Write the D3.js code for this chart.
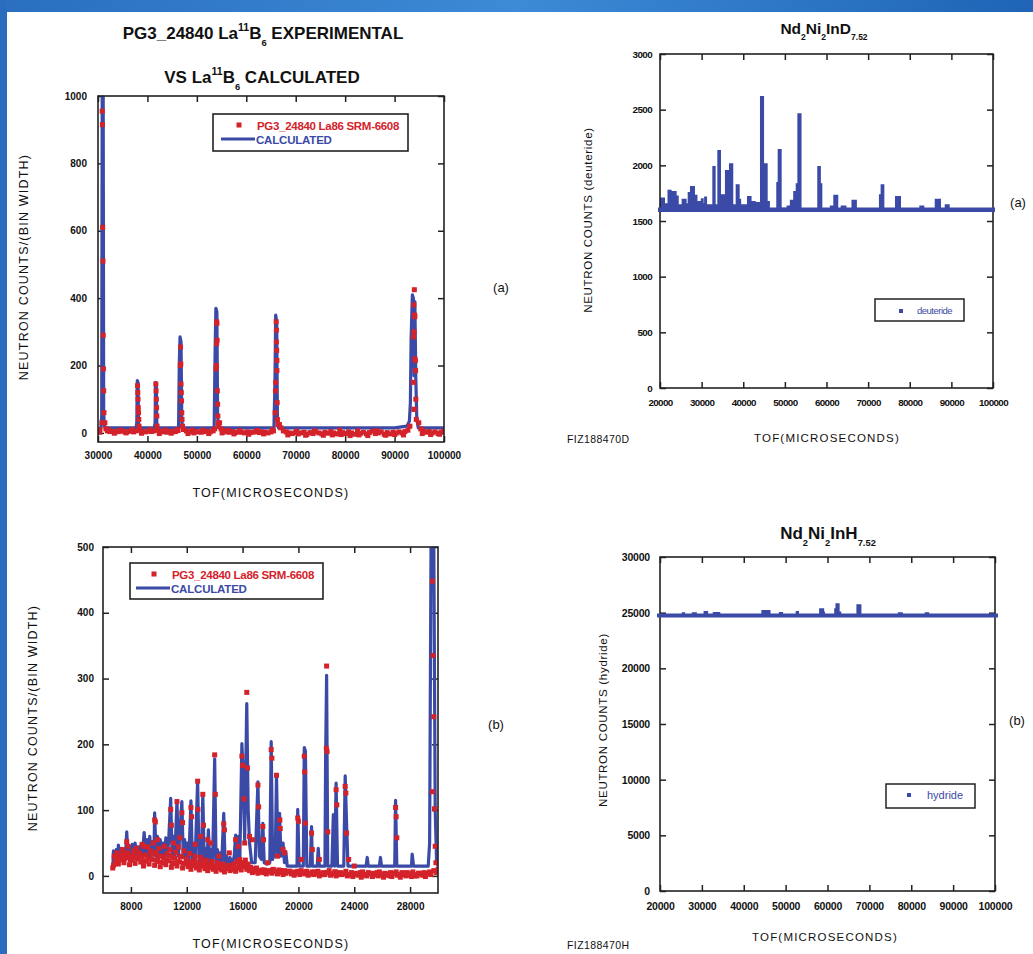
<!DOCTYPE html>
<html>
<head>
<meta charset="utf-8">
<script src="https://cdn.jsdelivr.net/npm/d3@7"></script>
<style>
  body { margin: 0; background: #fff; }
  svg { display: block; font-family: "Liberation Sans", Arial, sans-serif; }
</style>
</head>
<body>
<script>
// ---- data ----

// (a) top-left: La11B6, 30000-100000 us
var calcA = [[30000,12],[30600,15],[30750,50],[30850,1000],[31050,1000],[31150,60],[31300,20],[31500,15],
  [37700,15],[37850,30],[37950,155],[38100,150],[38200,30],[38350,15],
  [41400,15],[41550,30],[41650,150],[41800,145],[41900,30],[42050,15],
  [46300,15],[46450,210],[46600,285],[46800,270],[46950,40],[47100,15],
  [53500,15],[53700,250],[53850,370],[54050,360],[54200,50],[54400,15],
  [65600,15],[65800,150],[65950,350],[66150,330],[66300,45],[66500,15],
  [90000,15],[92500,20],[93000,35],[93200,90],[93350,280],[93600,410],[93800,400],[93950,170],
  [94100,390],[94300,160],[94500,40],[94800,15],[100000,15]];

var expA_base = [[30100,8],[30400,10],[31400,30],[31600,12],[31900,6],[32400,4],[33000,5],[33600,3],[34200,4],
  [34800,6],[35400,3],[36000,4],[36600,5],[37200,3],[37700,6],[38500,8],[39000,4],[39600,3],[40200,5],
  [40800,4],[41300,6],[42200,8],[42700,3],[43300,4],[43900,2],[44500,5],[45100,3],[45700,4],[46200,7],
  [47300,10],[47900,6],[48500,3],[49100,8],[49700,4],[50300,3],[50900,2],[51500,4],[52100,5],[52700,3],
  [53300,6],[54600,30],[54900,12],[55400,6],[56000,3],[56600,2],[57200,4],[57800,1],[58400,3],[59000,2],
  [59600,0],[60200,3],[60800,1],[61400,2],[62000,4],[62600,1],[63200,3],[63800,2],[64400,0],[65000,3],
  [65500,6],[66700,25],[67000,15],[67500,6],[68100,3],[68700,0],[69300,-2],[69900,1],[70500,-3],[71100,0],
  [71700,2],[72300,-4],[72900,1],[73500,-2],[74100,3],[74700,0],[75300,-3],[75900,2],[76500,-1],[77100,4],
  [77700,0],[78300,-3],[78900,8],[79500,1],[80100,-2],[80700,3],[81300,0],[81900,-4],[82500,6],[83100,-1],
  [83700,2],[84300,-3],[84900,1],[85500,5],[86100,-2],[86700,0],[87300,3],[87900,-4],[88500,1],[89100,-3],
  [89700,2],[90300,-1],[90900,3],[91500,0],[92100,4],[92700,8],[93100,20],[94900,30],[95300,12],[95800,6],
  [96400,2],[97000,4],[97600,0],[98200,3],[98800,-2],[99400,2],[99900,5],
  [30300,2],[32100,9],[33300,-1],[34500,8],[35700,0],[36900,9],[38800,-1],[40500,9],[42400,-2],[43600,8],
  [44800,-1],[46000,10],[48200,-2],[49400,0],[51200,8],[52400,-2],[53600,12],[55100,0],[56300,8],[57500,-3],
  [58700,7],[60500,-4],[62300,7],[63500,-3],[65300,9],[68400,-6],[70200,5],[72000,-7],[73800,6],[75600,-7],
  [77400,-6],[79200,-5],[81000,-8],[82800,-6],[84600,-8],[86400,6],[88200,-7],[90000,-5],[91800,-6],[95600,-2],
  [97300,-5],[99100,-4]];

var expA_peaks = [[30800,30],[30850,955],[30900,915],[30950,610],[31000,510],[31050,290],[31100,190],[31150,125],[31200,60],
  [38000,140],[38050,120],[38100,100],[38150,75],[38200,60],[38250,40],[38300,20],
  [41700,145],[41750,125],[41800,100],[41850,75],[41900,50],[41950,20],
  [46700,255],[46750,205],[46650,200],[46800,145],[46850,120],[46900,95],[46950,60],[47000,40],[47100,20],
  [54000,330],[54050,325],[54100,275],[54000,265],[53950,200],[53900,190],[54150,125],[54200,85],[54250,50],[54300,30],[54400,20],
  [66050,330],[66100,305],[66100,270],[66150,245],[66200,215],[66200,185],[65950,150],[65900,125],[66250,90],[65850,60],[66300,40],[66400,25],
  [94000,425],[93900,380],[94050,350],[94100,345],[93950,300],[93850,285],[94100,220],[94200,215],[94250,185],[93800,150],
  [94300,100],[93900,70],[94000,70],[94400,40]];

// (b) bottom-left: La11B6, 6000-30000 us
var calcB = [[6700,10],[6750,38],[6850,20],[6950,40],[7050,22],[7100,47],[7200,25],[7300,42],[7400,24],[7500,38],
  [7600,26],[7700,67],[7800,28],[7900,45],[8000,26],[8100,48],[8200,27],[8300,50],[8400,28],[8500,44],[8600,26],
  [8700,46],[8800,27],[8950,66],[9050,30],[9150,55],[9250,28],[9350,60],[9450,30],[9550,52],[9650,32],[9700,96],
  [9800,30],[9900,60],[10000,28],[10100,55],[10200,30],[10300,50],[10400,28],[10500,58],[10600,30],[10700,52],
  [10850,118],[10950,30],[11050,60],[11150,32],[11300,114],[11400,30],[11500,62],[11650,113],[11750,28],
  [11850,55],[11950,26],[12050,50],[12150,25],[12300,114],[12400,25],[12500,48],[12600,22],[12780,145],
  [12880,22],[12980,45],[13050,20],[13150,125],[13250,22],[13350,42],[13450,20],[13550,70],[13650,20],
  [13750,40],[13850,18],[14000,178],[14100,20],[14200,40],[14300,18],[14400,35],[14500,18],[14650,95],
  [14750,18],[14850,30],[14950,16],[15100,28],[15250,16],[15400,30],[15500,62],[15600,20],[15700,60],
  [15800,22],[15950,201],[16050,150],[16150,55],[16300,262],[16400,100],[16500,50],[16650,20],[16900,20],
  [17100,143],[17200,30],[17350,25],[17450,80],[17550,20],[17750,18],[17950,20],[18050,204],[18150,25],
  [18350,40],[18430,153],[18530,30],[18650,95],[18750,30],[18900,50],[19000,20],[19100,37],[19200,15],
  [19900,15],[19950,101],[20050,15],[20350,15],[20420,195],[20500,190],[20600,15],[20850,15],[20940,75],
  [21000,15],[21350,15],[21420,42],[21500,15],[21900,15],[21950,180],[22020,305],[22100,15],[22400,15],
  [22500,93],[22600,15],[22700,141],[22800,15],[23250,15],[23350,152],[23450,80],[23550,15],[24850,15],
  [24930,28],[25000,15],[25800,15],[25880,28],[25950,15],[26900,15],[26960,115],[27050,15],[28100,15],
  [28150,33],[28250,15],[29300,15],[29400,50],[29500,500],[29700,500],[29800,100],[29900,20],[30000,15]];

var expB_base = [[6700,12],[6900,22],[7100,18],[7300,25],[7500,20],[7700,28],[7900,17],[8100,24],[8300,19],[8500,26],
  [8700,21],[8900,15],[9100,23],[9300,18],[9500,25],[9700,16],[9900,22],[10100,14],[10300,20],[10500,17],
  [10700,23],[10900,13],[11100,19],[11300,15],[11500,21],[11700,12],[11900,18],[12100,14],[12300,10],[12500,16],
  [12700,12],[12900,9],[13100,15],[13300,11],[13500,8],[13700,13],[13900,10],[14100,7],[14300,12],[14500,9],
  [14700,6],[14900,11],[15100,8],[15300,10],[15500,7],[15700,12],[15900,9],[16100,14],[16300,10],[16500,8],
  [16700,5],[16900,7],[17100,4],[17300,6],[17500,5],[17700,3],[17900,6],[18100,4],[18300,7],[18500,3],
  [18700,5],[18900,2],[19100,4],[19300,6],[19500,3],[19700,1],[19900,4],[20100,2],[20300,5],[20500,3],
  [20700,1],[20900,4],[21100,2],[21300,3],[21500,0],[21700,4],[21900,2],[22100,5],[22300,1],[22500,3],
  [22700,0],[22900,4],[23100,2],[23300,3],[23500,0],[23700,2],[23900,-1],[24100,3],[24300,1],[24500,-2],
  [24700,2],[24900,0],[25100,3],[25300,-1],[25500,2],[25700,0],[25900,3],[26100,-2],[26300,1],[26500,2],
  [26700,-1],[26900,3],[27100,1],[27300,-2],[27500,2],[27700,0],[27900,3],[28100,-1],[28300,2],[28500,0],
  [28700,3],[28900,1],[29100,-1],[29300,4],[29500,2],[29700,8],[29900,5],[30000,10],
  [6800,30],[7000,35],[7200,28],[7400,40],[7600,33],[7800,45],[8000,30],[8200,38],[8400,42],[8600,35],
  [8800,48],[9000,32],[9200,44],[9400,38],[9600,50],[9800,36],[10000,42],[10200,30],[10400,45],[10600,34],
  [10800,40],[11000,28],[11200,36],[11400,44],[11600,30],[11800,38],[12000,26],[12200,34],[12400,22],[12600,30],
  [12800,20],[13000,28],[13200,18],[13400,24],[13600,16],[13800,22],[14000,15],[14200,20],[14400,14],[14600,18],
  [14800,12],[15000,16],[15200,13],[15400,18],[15600,22],[15800,25],[16000,20],[16200,24],[16400,18],[16600,12],
  [16800,10],[17000,12],[17400,9],[17800,8],[18200,10],[18600,9],[19000,8],[19400,7],[19800,6],[20200,8],
  [20600,7],[21000,6],[21400,7],[21800,5],[22200,8],[22600,6],[23000,5],[23400,7],[23800,5],[24200,4],
  [24600,6],[25000,5],[25400,4],[25800,6],[26200,4],[26600,5],[27000,6],[27400,4],[27800,5],[28200,6],
  [28600,4],[29000,5],[29400,6],
  [6750,16],[6950,28],[7150,24],[7350,32],[7550,26],[7750,35],[7950,24],[8150,31],[8350,27],[8550,33],
  [8750,29],[8950,22],[9150,30],[9350,26],[9550,33],[9750,24],[9950,30],[10150,21],[10350,28],[10550,24],
  [10750,31],[10950,20],[11150,27],[11350,22],[11550,29],[11750,19],[11950,25],[12150,20],[12350,16],[12550,23],
  [12750,18],[12950,15],[13150,22],[13350,17],[13550,13],[13750,19],[13950,15],[14150,12],[14350,17],[14550,14],
  [14750,11],[14950,15],[15150,12],[15350,15],[15550,12],[15750,17],[15950,14],[16150,19],[16350,15],[16550,13],
  [16750,9],[16950,11],[17250,8],[17550,9],[17850,7],[18150,9],[18450,6],[18750,8],[19050,5],[19350,7],
  [19650,5],[19950,7],[20250,4],[20550,6],[20850,3],[21150,6],[21450,4],[21750,2],[22050,5],[22350,3],
  [22650,6],[22950,2],[23250,4],[23550,1],[23850,4],[24150,2],[24450,5],[24750,1],[25050,4],[25350,2],
  [25650,5],[25950,1],[26250,3],[26550,0],[26850,4],[27150,2],[27450,5],[27750,1],[28050,3],[28350,0],
  [28650,4],[28950,2],[29250,3]];

var expB_peaks = [[9700,85],[9750,82],[10850,101],[10900,77],[11300,113],[11650,96],[11700,81],[12300,104],[12350,90],
  [12780,144],[12800,101],[13150,124],[13200,77],[14000,184],[14050,124],[14650,79],[14700,70],[15950,182],
  [16000,168],[16100,117],[16300,279],[16350,164],[17100,138],[17150,105],[17450,75],[17500,55],[18050,192],
  [18100,179],[18430,153],[18670,85],[18700,72],[19950,88],[20000,83],[20420,182],[20450,158],[20500,80],
  [20940,65],[22020,319],[22000,194],[22050,189],[22100,67],[22700,131],[22750,108],[23350,136],[23400,126],
  [23450,65],[26960,104],[27000,90],[27050,58],[29600,448],[29650,335],[29700,242],[29600,128],[29750,102],
  [29800,45],[29850,20],[18500,30],[19000,35],[21000,40],[21500,25],[17800,20],[16700,55],[16500,60],
  [13500,55],[13700,50],[15500,55],[15700,45],[23600,25],[24000,15],[20200,25],[18900,40],
  [7700,52],[8900,45],[9900,55],[11050,50],[11500,58],[12600,48],[13000,60],[14300,30],[15050,35],[16150,50]];

// (a) top-right: deuteride, stepped counts
var deuteride = [[20000,1710],[21200,1660],[21800,1780],[22800,1770],[24000,1730],[24500,1650],[25200,1700],
  [26400,1660],[26650,1760],[27200,1815],[28400,1735],[29000,1680],[29800,1705],[30500,1660],[30600,1720],
  [31300,1650],[32570,1995],[33370,1650],[33770,2138],[34650,1740],[35600,1958],[36570,2018],[37600,1650],
  [38180,1830],[39140,1700],[39500,1650],[40900,1725],[42000,1680],[43000,1670],[44020,2622],[45000,2018],
  [45870,1680],[46400,1600],[47930,1850],[48270,2147],[49230,1620],[50400,1640],[51200,1690],[52000,1770],
  [52600,1840],[53000,2467],[54000,1600],[57780,1994],[58650,1840],[59000,1600],[60800,1640],[61630,1735],
  [62830,1600],[63400,1640],[64800,1600],[66000,1690],[67300,1600],[72600,1740],[73000,1830],[73900,1600],
  [76450,1725],[77900,1600],[82300,1640],[83500,1600],[86000,1700],[87500,1600],[88400,1650],[89600,1600],
  [100000,1600]];
var deuterideBase = 1600;

// (b) bottom-right: hydride, stepped counts
var hydride = [[20000,24750],[25200,25030],[26000,24750],[27600,25030],[28800,24750],[30400,25150],[31500,24750],
  [32600,25060],[34400,24750],[44200,25240],[46400,24750],[48400,25060],[49400,24750],[52400,25150],[53200,24750],
  [58000,25390],[59200,25100],[59400,24750],[61600,25400],[61900,25840],[62900,25100],[63300,24750],[66900,25750],
  [68100,24750],[76800,25030],[78000,24750],[83200,25030],[84300,24750],[99200,24900],[100000,24750]];
var hydrideBase = 24750;

// tick values
var ticksAx = [30000, 40000, 50000, 60000, 70000, 80000, 90000, 100000];
var ticksAy = [0, 200, 400, 600, 800, 1000];
var ticksBx = [8000, 12000, 16000, 20000, 24000, 28000];
var ticksBy = [0, 100, 200, 300, 400, 500];
var ticksCx = [20000, 30000, 40000, 50000, 60000, 70000, 80000, 90000, 100000];
var ticksCy = [0, 500, 1000, 1500, 2000, 2500, 3000];
var ticksDy = [0, 5000, 10000, 15000, 20000, 25000, 30000];

var BLUE = "#3a4aa6", RED = "#d4222b";

var svg = d3.select("body").append("svg").attr("width", 1033).attr("height", 954);

// blue slide border
var defs = svg.append("defs");
var grad = defs.append("linearGradient").attr("id", "bg").attr("x1", 0).attr("x2", 1).attr("y1", 0).attr("y2", 0);
grad.append("stop").attr("offset", "0%").attr("stop-color", "#2a6fc0");
grad.append("stop").attr("offset", "50%").attr("stop-color", "#3d8ad6");
grad.append("stop").attr("offset", "100%").attr("stop-color", "#1f64b6");
svg.append("rect").attr("x", 0).attr("y", 0).attr("width", 1033).attr("height", 12).attr("fill", "url(#bg)");
svg.append("rect").attr("x", 0).attr("y", 0).attr("width", 7).attr("height", 954).attr("fill", "#2a6cbd");

function panel(p) {
  var g = svg.append("g");
  var x = d3.scaleLinear().domain(p.xd).range([p.l, p.r]);
  var y = d3.scaleLinear().domain(p.yd).range([p.b, p.t]);
  var id = "clip" + p.name;
  defs.append("clipPath").attr("id", id).append("rect")
    .attr("x", p.l).attr("y", p.t).attr("width", p.r - p.l).attr("height", p.b - p.t);

  var axes = [
    {ax: d3.axisBottom(x).tickValues(p.xt), pos: "translate(0," + p.b + ")", lab: true, pad: p.xpad},
    {ax: d3.axisTop(x).tickValues(p.xt), pos: "translate(0," + p.t + ")", lab: false},
    {ax: d3.axisLeft(y).tickValues(p.yt), pos: "translate(" + p.l + ",0)", lab: true, pad: p.ypad},
    {ax: d3.axisRight(y).tickValues(p.yt), pos: "translate(" + p.r + ",0)", lab: false}
  ];
  axes.forEach(function(a) {
    a.ax.tickSizeInner(-6).tickSizeOuter(0).tickPadding(a.pad || 0).tickFormat(a.lab ? d3.format("d") : "");
    var ag = g.append("g").attr("transform", a.pos).call(a.ax);
    ag.select(".domain").remove();
    ag.selectAll("line").attr("stroke", "#222").attr("stroke-width", 1.5);
    ag.selectAll("text").attr("fill", "#111").style("font-size", p.fs + "px")
      .style("font-weight", "bold").style("font-family", "'Liberation Sans', Arial, sans-serif")
      .style("letter-spacing", p.ls || "0px");
  });

  var data = g.append("g").attr("clip-path", "url(#" + id + ")");
  g.append("rect").attr("x", p.l).attr("y", p.t).attr("width", p.r - p.l).attr("height", p.b - p.t)
    .attr("fill", "none").attr("stroke", "#222").attr("stroke-width", 1.6);
  return {g: g, x: x, y: y, data: data};
}

function text(s, x, y, o) {
  o = o || {};
  var t = svg.append("text").attr("x", x).attr("y", y).text(s)
    .attr("text-anchor", o.anchor || "start")
    .attr("fill", o.fill || "#111")
    .style("font-size", (o.fs || 12) + "px")
    .style("font-weight", o.bold ? "bold" : "normal")
    .style("letter-spacing", o.ls || "0px");
  if (o.rot) t.attr("transform", "rotate(-90," + x + "," + y + ")");
  return t;
}

// title with sup/sub parts: [text, kind]
function rich(parts, x, y, fs) {
  var t = svg.append("text").attr("x", x).attr("y", y).attr("text-anchor", "middle")
    .attr("fill", "#111").style("font-weight", "bold").style("font-size", fs + "px");
  var shift = 0;
  parts.forEach(function(pp) {
    var dy = 0, size = fs;
    if (pp[1] === "sup") { dy = -fs * 0.45; size = fs * 0.62; }
    if (pp[1] === "sub") { dy = fs * 0.4; size = fs * 0.55; }
    t.append("tspan").attr("dy", dy - shift).style("font-size", size + "px").text(pp[0]);
    shift = dy;
  });
  return t;
}

function dots(P, arr, s) {
  P.data.selectAll(null).data(arr).enter().append("rect")
    .attr("x", function(d) { return P.x(d[0]) - s / 2; })
    .attr("y", function(d) { return P.y(d[1]) - s / 2; })
    .attr("width", s).attr("height", s).attr("fill", RED);
}

function labLegend(x0, y0, x1, y1, dotX, dotY, tx, lineX0, lineX1, lineY) {
  svg.append("rect").attr("x", x0).attr("y", y0).attr("width", x1 - x0).attr("height", y1 - y0)
    .attr("fill", "#fff").attr("stroke", "#222").attr("stroke-width", 1.6);
  svg.append("rect").attr("x", dotX - 2.5).attr("y", dotY - 2.5).attr("width", 5).attr("height", 5).attr("fill", RED);
  text("PG3_24840 La86 SRM-6608", tx, dotY + 4.5, {fill: RED, bold: true, fs: 11.5, ls: "-0.3px"});
  svg.append("line").attr("x1", lineX0).attr("x2", lineX1).attr("y1", lineY).attr("y2", lineY)
    .attr("stroke", BLUE).attr("stroke-width", 3);
  text("CALCULATED", lineX1 + 1, lineY + 4.5, {fill: BLUE, bold: true, fs: 11.5, ls: "-0.2px"});
}

// ---------- panel (a) left ----------
var A = panel({name: "A", l: 98, r: 444, t: 96, b: 442, xd: [30000, 100000], yd: [-27, 1000],
  xt: ticksAx, yt: ticksAy, fs: 10, xpad: 10, ypad: 11});
A.data.append("path").datum(calcA)
  .attr("d", d3.line().x(function(d) { return A.x(d[0]); }).y(function(d) { return A.y(d[1]); }))
  .attr("fill", "none").attr("stroke", BLUE).attr("stroke-width", 3.2).attr("stroke-linejoin", "round");
dots(A, expA_base, 5);
dots(A, expA_peaks, 5);
labLegend(213, 114, 408, 151, 239, 125, 257, 221, 255, 139);

rich([["PG3_24840 La", ""], ["11", "sup"], ["B", ""], ["6", "sub"], [" EXPERIMENTAL", ""]], 263, 39, 17);
rich([["VS La", ""], ["11", "sup"], ["B", ""], ["6", "sub"], [" CALCULATED", ""]], 262, 83, 17);
text("TOF(MICROSECONDS)", 271, 497, {anchor: "middle", fs: 12.5, ls: "1.2px"});
text("NEUTRON  COUNTS/(BIN WIDTH)", 28, 267, {anchor: "middle", fs: 12.5, ls: "1.2px", rot: true});
text("(a)", 501, 292, {anchor: "middle", fs: 13});

// ---------- panel (b) left ----------
var B = panel({name: "B", l: 103, r: 438, t: 547, b: 893, xd: [6000, 30000], yd: [-26, 500],
  xt: ticksBx, yt: ticksBy, fs: 10, xpad: 10, ypad: 9});
B.data.append("path").datum(calcB)
  .attr("d", d3.line().x(function(d) { return B.x(d[0]); }).y(function(d) { return B.y(d[1]); }))
  .attr("fill", "none").attr("stroke", BLUE).attr("stroke-width", 3.2).attr("stroke-linejoin", "round");
dots(B, expB_base, 5);
dots(B, expB_peaks, 5);
labLegend(130, 563, 323, 599, 154, 574, 172, 136, 170, 588);
text("TOF(MICROSECONDS)", 271, 948, {anchor: "middle", fs: 12.5, ls: "1.2px"});
text("NEUTRON  COUNTS/(BIN WIDTH)", 37, 718, {anchor: "middle", fs: 12.5, ls: "1.2px", rot: true});
text("(b)", 496, 729, {anchor: "middle", fs: 13});

// ---------- panel (a) right: deuteride ----------
var C = panel({name: "C", l: 660, r: 993, t: 54, b: 388, xd: [20000, 100000], yd: [0, 3000],
  xt: ticksCx, yt: ticksCy, fs: 9.8, ls: "-0.6px", xpad: 11, ypad: 8});
C.data.append("path").datum(deuteride)
  .attr("d", d3.area().curve(d3.curveStepAfter)
    .x(function(d) { return C.x(d[0]); }).y0(C.y(deuterideBase)).y1(function(d) { return C.y(d[1]); }))
  .attr("fill", BLUE);
svg.append("line").attr("x1", C.x(20000) - 2).attr("x2", C.x(100000) + 2)
  .attr("y1", C.y(deuterideBase)).attr("y2", C.y(deuterideBase)).attr("stroke", BLUE).attr("stroke-width", 4.5);
svg.append("rect").attr("x", 875).attr("y", 299).attr("width", 89).attr("height", 22)
  .attr("fill", "#fff").attr("stroke", "#222").attr("stroke-width", 1.5);
svg.append("rect").attr("x", 899).attr("y", 309).attr("width", 4).attr("height", 4).attr("fill", BLUE);
text("deuteride", 917, 314, {fill: BLUE, fs: 9.5, ls: "-0.5px"});
rich([["Nd", ""], ["2", "sub"], ["Ni", ""], ["2", "sub"], ["InD", ""], ["7.52", "sub"]], 824, 34, 15.5);
text("TOF(MICROSECONDS)", 827, 442, {anchor: "middle", fs: 11.5, ls: "1.2px"});
text("FIZ188470D", 567, 443, {fs: 10.5, ls: "0.4px"});
text("NEUTRON COUNTS (deuteride)", 592, 220, {anchor: "middle", fs: 11.5, ls: "0.7px", rot: true});
text("(a)", 1018, 207, {anchor: "middle", fs: 13});

// ---------- panel (b) right: hydride ----------
var D = panel({name: "D", l: 660, r: 995, t: 557, b: 891, xd: [20000, 100000], yd: [0, 30000],
  xt: ticksCx, yt: ticksDy, fs: 10.5, ls: "-0.2px", xpad: 12, ypad: 10});
D.data.append("path").datum(hydride)
  .attr("d", d3.area().curve(d3.curveStepAfter)
    .x(function(d) { return D.x(d[0]); }).y0(D.y(hydrideBase)).y1(function(d) { return D.y(d[1]); }))
  .attr("fill", BLUE);
svg.append("line").attr("x1", D.x(20000) - 3).attr("x2", D.x(100000) + 3)
  .attr("y1", D.y(hydrideBase)).attr("y2", D.y(hydrideBase)).attr("stroke", BLUE).attr("stroke-width", 4);
svg.append("rect").attr("x", 886).attr("y", 784).attr("width", 89).attr("height", 24)
  .attr("fill", "#fff").attr("stroke", "#222").attr("stroke-width", 1.5);
svg.append("rect").attr("x", 907).attr("y", 793).attr("width", 4).attr("height", 4).attr("fill", BLUE);
text("hydride", 927, 799, {fill: BLUE, fs: 11});
rich([["Nd", ""], ["2", "sub"], ["Ni", ""], ["2", "sub"], ["InH", ""], ["7.52", "sub"]], 828, 539, 17);
text("TOF(MICROSECONDS)", 825, 941, {anchor: "middle", fs: 11.5, ls: "1.2px"});
text("FIZ188470H", 567, 949, {fs: 10.5, ls: "0.4px"});
text("NEUTRON COUNTS (hydride)", 607, 720, {anchor: "middle", fs: 11.5, ls: "0.7px", rot: true});
text("(b)", 1017, 725, {anchor: "middle", fs: 13});
</script>
</body>
</html>
